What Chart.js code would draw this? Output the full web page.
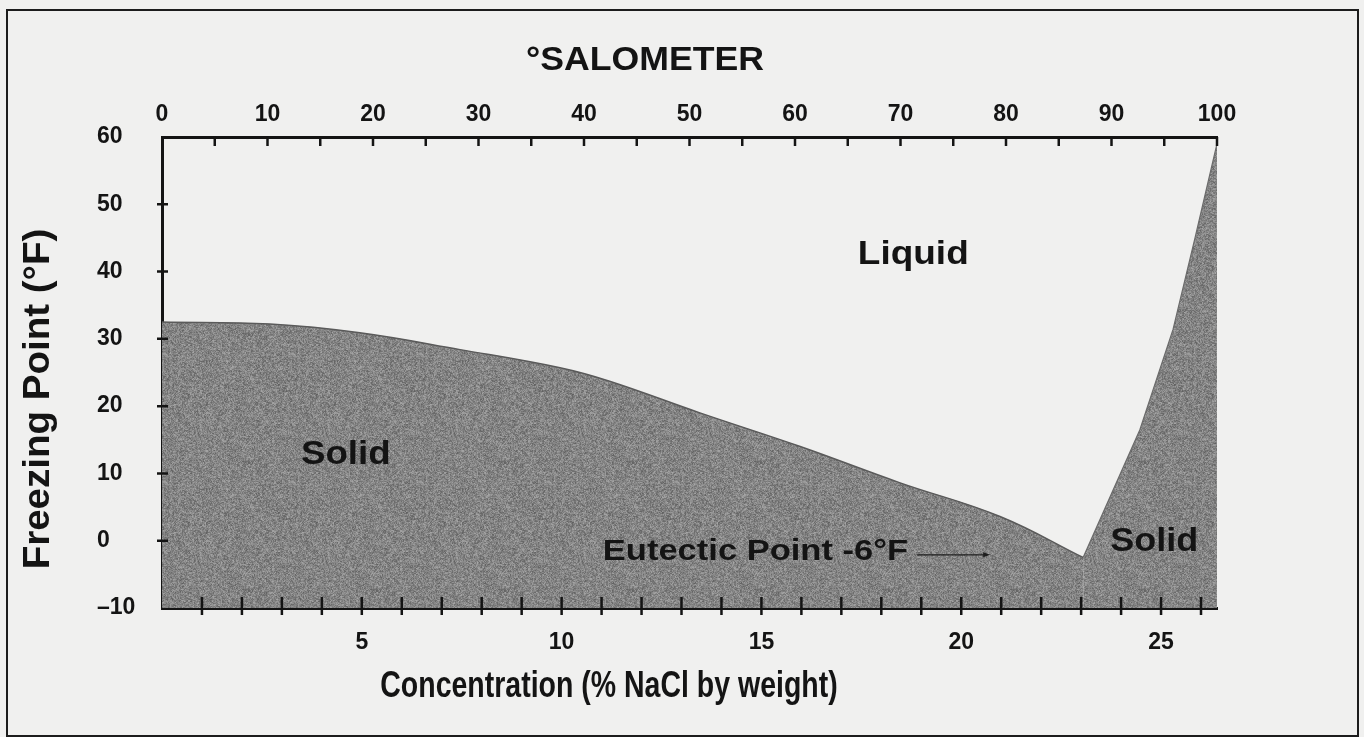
<!DOCTYPE html>
<html>
<head>
<meta charset="utf-8">
<title>Freezing point of NaCl brine</title>
<script src="https://cdn.jsdelivr.net/npm/chart.js@4.4.1/dist/chart.umd.min.js"></script>
<style>
  html, body { margin: 0; padding: 0; background: #f0f0ef; }
  #wrap { position: relative; width: 1364px; height: 737px; overflow: hidden; }
  #frame {
    position: absolute; left: 6px; top: 9px; width: 1353px; height: 728px;
    border: 2px solid #1c1c1c; box-sizing: border-box;
  }
  canvas { position: absolute; left: 0; top: 0; }
</style>
</head>
<body>
<div id="wrap">
  <div id="frame"></div>
  <canvas id="chart" width="1364" height="737"></canvas>
</div>
<script>
// --- Data ---
// ice branch: from pure water down to the eutectic
const iceConc = [0, 2.7, 4.95, 7.46, 9.96, 11.2, 13.46, 15.97, 18.47, 20.97, 23.05];
const iceTemp = [32.5, 32.2, 30.9, 28.4, 25.7, 23.7, 19.0, 14.0, 8.6, 3.6, -2.5];
// salt branch: from the eutectic up to saturation
const saltConc = [23.05, 24.47, 25.3, 25.85, 26.4];
const saltTemp = [-2.5, 16.5, 31.4, 45.0, 59.0];

const tempTicks = [-10, 0, 10, 20, 30, 40, 50, 60];
const salometerLabels = [0, 10, 20, 30, 40, 50, 60, 70, 80, 90, 100];
const concentrationLabels = [5, 10, 15, 20, 25];

// annotation texts, placed in data units (concentration, °F)
const notes = [
  { text: 'Liquid', x: 18.8, y: 42.5, size: 33, stretch: 1.12 },
  { text: 'Solid', x: 4.6, y: 12.8, size: 34, stretch: 1.08 },
  { text: 'Solid', x: 24.83, y: -0.1, size: 34, stretch: 1.06 },
  { text: 'Eutectic Point -6°F', x: 14.85, y: -1.6, size: 30, stretch: 1.15 }
];
const arrowFrom = [18.9, -2.1];
const arrowTo = [20.65, -2.1];

const FONT = "'Liberation Sans', Arial, Helvetica, sans-serif";
const INK = '#141414';

// mottled grey fill like the printed original (deterministic texture)
function makeTexture() {
  const N = 128;
  const c = document.createElement('canvas');
  c.width = N; c.height = N;
  const g = c.getContext('2d');
  const img = g.createImageData(N, N);
  const hash = (i, j) => {
    let h = Math.imul(i, 0x27d4eb2d) ^ Math.imul(j + 977, 0x165667b1);
    h = Math.imul(h ^ (h >>> 15), 0x85ebca6b);
    h = Math.imul(h ^ (h >>> 13), 0xc2b2ae35);
    h ^= h >>> 16;
    return ((h >>> 0) & 1023) / 1023 - 0.5;
  };
  for (let j = 0; j < N; j++) {
    for (let i = 0; i < N; i++) {
      // fine grain plus a coarser blotch component
      const n = hash(i, j) * 0.65 + hash(i >> 1, j >> 1) * 0.35;
      const v = Math.round(132 + n * 72);
      const k = (j * N + i) * 4;
      img.data[k] = v; img.data[k + 1] = v; img.data[k + 2] = v; img.data[k + 3] = 255;
    }
  }
  g.putImageData(img, 0, 0);
  return g.createPattern(c, 'repeat');
}

function drawStretched(ctx, text, x, y, size, stretch, rot) {
  ctx.save();
  ctx.translate(x, y);
  if (rot) ctx.rotate(rot);
  ctx.scale(stretch, 1);
  ctx.font = `bold ${size}px ${FONT}`;
  ctx.textAlign = 'center';
  ctx.textBaseline = 'middle';
  ctx.fillStyle = INK;
  ctx.fillText(text, 0, 0);
  ctx.restore();
}

const annotations = {
  id: 'annotations',
  afterDatasetsDraw(chart) {
    const { ctx, scales: { x, y } } = chart;
    notes.forEach(n => {
      drawStretched(ctx, n.text, x.getPixelForValue(n.x), y.getPixelForValue(n.y), n.size, n.stretch);
    });
    // arrow toward the eutectic point
    const x1 = x.getPixelForValue(arrowFrom[0]), y1 = y.getPixelForValue(arrowFrom[1]);
    const x2 = x.getPixelForValue(arrowTo[0]), y2 = y.getPixelForValue(arrowTo[1]);
    ctx.save();
    ctx.strokeStyle = '#1e1e1e';
    ctx.lineWidth = 1.4;
    ctx.beginPath();
    ctx.moveTo(x1, y1);
    ctx.lineTo(x2, y2);
    ctx.stroke();
    ctx.fillStyle = '#1e1e1e';
    ctx.beginPath();
    ctx.moveTo(x2 + 3, y2);
    ctx.lineTo(x2 - 4, y2 - 2.5);
    ctx.lineTo(x2 - 4, y2 + 2.5);
    ctx.closePath();
    ctx.fill();
    ctx.restore();
  }
};

// tick marks and axis titles
const axisDecor = {
  id: 'axisDecor',
  afterDraw(chart) {
    const { ctx, chartArea, scales: { x, x2, y } } = chart;
    ctx.save();
    ctx.strokeStyle = INK;
    ctx.lineWidth = 2.5;
    ctx.beginPath();
    // left axis: crossing ticks
    tempTicks.forEach(v => {
      if (v === -10 || v === 60) return;
      const py = y.getPixelForValue(v);
      ctx.moveTo(chartArea.left - 5, py);
      ctx.lineTo(chartArea.left + 6, py);
    });
    // top axis: inward ticks every 5 degrees salometer
    for (let v = 5; v <= 100; v += 5) {
      const px = x2.getPixelForValue(v);
      ctx.moveTo(px, chartArea.top);
      ctx.lineTo(px, chartArea.top + 9);
    }
    // bottom axis: crossing ticks every 1 %
    for (let v = 1; v <= 26; v++) {
      const px = x.getPixelForValue(v);
      ctx.moveTo(px, chartArea.bottom - 11);
      ctx.lineTo(px, chartArea.bottom + 7);
    }
    ctx.stroke();
    ctx.restore();

    drawStretched(ctx, '°SALOMETER', 645, 61, 33, 1.08);
    drawStretched(ctx, 'Concentration (% NaCl by weight)', 609, 687, 37, 0.77);
    drawStretched(ctx, 'Freezing Point (°F)', 39, 399, 36, 1.07, -Math.PI / 2);
  }
};

const tickFont = { family: FONT, size: 23, weight: 'bold' };
const texture = makeTexture();

const ctx = document.getElementById('chart').getContext('2d');
new Chart(ctx, {
  type: 'line',
  data: {
    datasets: [{
      label: 'Ice line',
      data: iceConc.map((c, i) => ({ x: c, y: iceTemp[i] })),
      borderColor: '#5a5a5a',
      borderWidth: 1.5,
      backgroundColor: texture,
      fill: 'start',
      pointRadius: 0,
      tension: 0.4
    }, {
      label: 'Salt line',
      data: saltConc.map((c, i) => ({ x: c, y: saltTemp[i] })),
      borderColor: '#6a6a6a',
      borderWidth: 1.2,
      backgroundColor: texture,
      fill: 'start',
      pointRadius: 0,
      tension: 0
    }]
  },
  plugins: [annotations, axisDecor],
  options: {
    responsive: false,
    animation: false,
    layout: { padding: { left: 97, top: 77, right: 147, bottom: 69 } },
    plugins: { legend: { display: false }, tooltip: { enabled: false } },
    scales: {
      x: {
        type: 'linear', position: 'bottom', min: 0, max: 26.4, z: 1,
        grid: { display: false, drawTicks: false },
        border: { display: true, width: 3, color: INK },
        ticks: {
          stepSize: 1, autoSkip: false, maxRotation: 0, padding: 21,
          color: INK, font: tickFont,
          callback: v => concentrationLabels.includes(v) ? String(v) : ''
        },
        afterFit: s => { s.height = 60; }
      },
      x2: {
        type: 'linear', position: 'top', min: 0, max: 100, z: 1,
        grid: { display: false, drawTicks: false },
        border: { display: true, width: 3, color: INK },
        ticks: {
          stepSize: 5, autoSkip: false, maxRotation: 0, padding: 9,
          color: INK, font: tickFont,
          callback: v => salometerLabels.includes(v) ? String(v) : ''
        },
        afterFit: s => { s.height = 60; }
      },
      y: {
        type: 'linear', position: 'left', min: -10, max: 60, z: 1,
        grid: { display: false, drawTicks: false },
        border: { display: true, width: 3, color: INK },
        ticks: {
          stepSize: 10, crossAlign: 'far', color: INK, font: tickFont,
          callback: v => tempTicks.includes(v) ? (v < 0 ? '\u2013' + Math.abs(v) : String(v)) : ''
        },
        afterFit: s => { s.width = 65; }
      }
    }
  }
});
</script>
</body>
</html>
